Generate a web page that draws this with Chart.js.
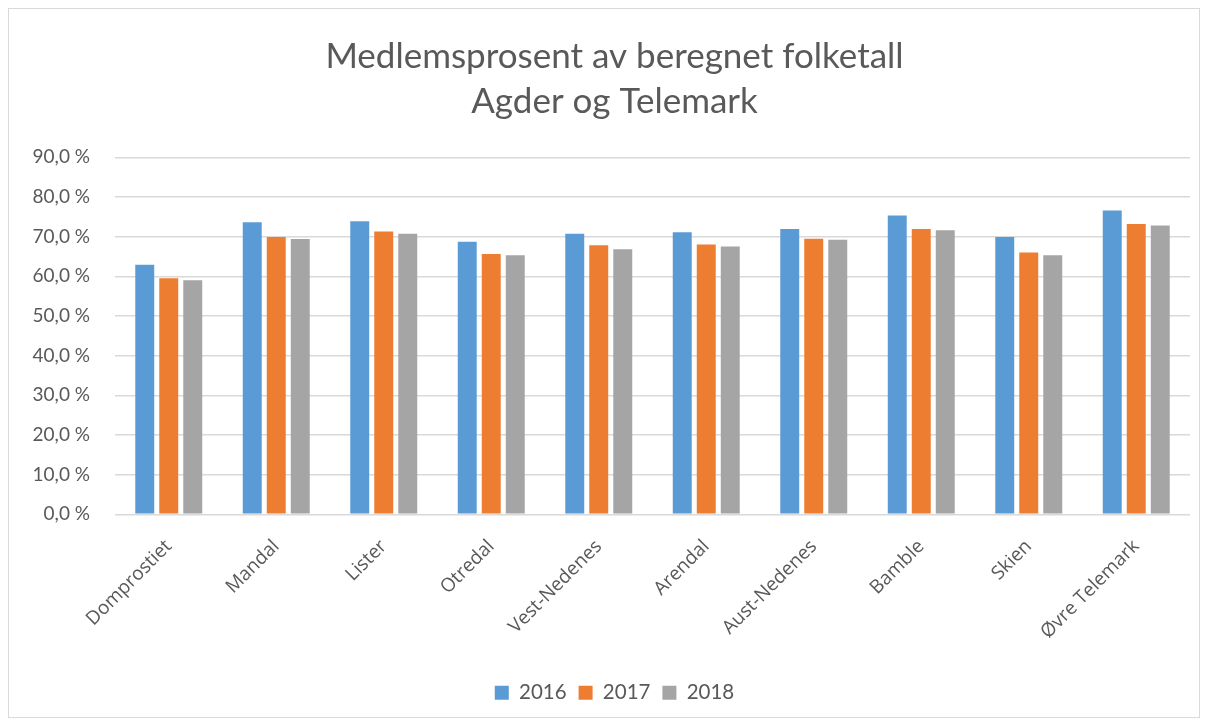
<!DOCTYPE html>
<html>
<head>
<meta charset="utf-8">
<script src="https://cdn.jsdelivr.net/npm/chart.js@4.4.1/dist/chart.umd.min.js"></script>
<style>
  html, body { margin: 0; padding: 0; background: #fff; }
  #wrap {
    position: absolute; left: 8px; top: 8px;
    width: 1192px; height: 710px;
    border: 1px solid #d9d9d9; box-sizing: border-box;
  }
</style>
</head>
<body>
<div id="wrap"><canvas id="chart"></canvas></div>
<script>
const categories = ["Domprostiet", "Mandal", "Lister", "Otredal", "Vest-Nedenes", "Arendal", "Aust-Nedenes", "Bamble", "Skien", "Øvre Telemark"];
const values2016 = [62.9, 73.6, 73.9, 68.7, 70.7, 71.1, 71.9, 75.3, 69.9, 76.6];
const values2017 = [59.5, 69.9, 71.3, 65.6, 67.8, 68.0, 69.5, 71.9, 66.0, 73.2];
const values2018 = [59.0, 69.4, 70.7, 65.3, 66.8, 67.5, 69.2, 71.6, 65.3, 72.8];
const titleLines = ["Medlemsprosent av beregnet folketall", "Agder og Telemark"];

const textColor = "#595959";
const fontFamily = "Lato, 'Open Sans', sans-serif";

// Excel centres title and legend a bit right of the canvas middle
const shiftCentred = {
  id: "shiftCentred",
  afterLayout(chart) {
    if (chart.titleBlock) chart.titleBlock.left += 30;
    if (chart.legend) chart.legend.left += 30;
  }
};

const canvas = document.getElementById("chart");
new Chart(canvas, {
  type: "bar",
  plugins: [shiftCentred],
  data: {
    labels: categories,
    datasets: [
      { label: "2016", data: values2016, backgroundColor: "#5b9bd5" },
      { label: "2017", data: values2017, backgroundColor: "#ed7d31" },
      { label: "2018", data: values2018, backgroundColor: "#a5a5a5" }
    ]
  },
  options: {
    responsive: true,
    maintainAspectRatio: false,
    animation: false,
    layout: { padding: { left: 0, right: 9, top: 16, bottom: 4 } },
    datasets: {
      bar: { categoryPercentage: 0.67, barPercentage: 0.79 }
    },
    scales: {
      x: {
        grid: { display: false },
        border: { display: false },
        afterFit: (scale) => { scale.height += 14; },
        ticks: {
          color: textColor,
          font: { family: "'Open Sans', sans-serif", size: 19 },
          minRotation: 45,
          maxRotation: 45,
          padding: 13
        }
      },
      y: {
        min: 0,
        max: 90,
        border: { display: false },
        grid: { color: "#d9d9d9", lineWidth: 1.5, drawTicks: false },
        afterFit: (scale) => { scale.width = 106; },
        ticks: {
          stepSize: 10,
          color: textColor,
          padding: 25,
          font: { family: fontFamily, size: 19 },
          callback: (v) => v.toFixed(1).replace(".", ",") + " %"
        }
      }
    },
    plugins: {
      title: {
        display: true,
        text: titleLines,
        color: textColor,
        font: { family: fontFamily, size: 35, weight: "normal", lineHeight: 1.29 },
        padding: { top: 9, bottom: 33 }
      },
      legend: {
        position: "bottom",
        labels: {
          color: textColor,
          font: { family: fontFamily, size: 20.5 },
          boxWidth: 14,
          boxHeight: 14,
          padding: 12
        }
      },
      tooltip: { enabled: false }
    }
  }
});
</script>
</body>
</html>
